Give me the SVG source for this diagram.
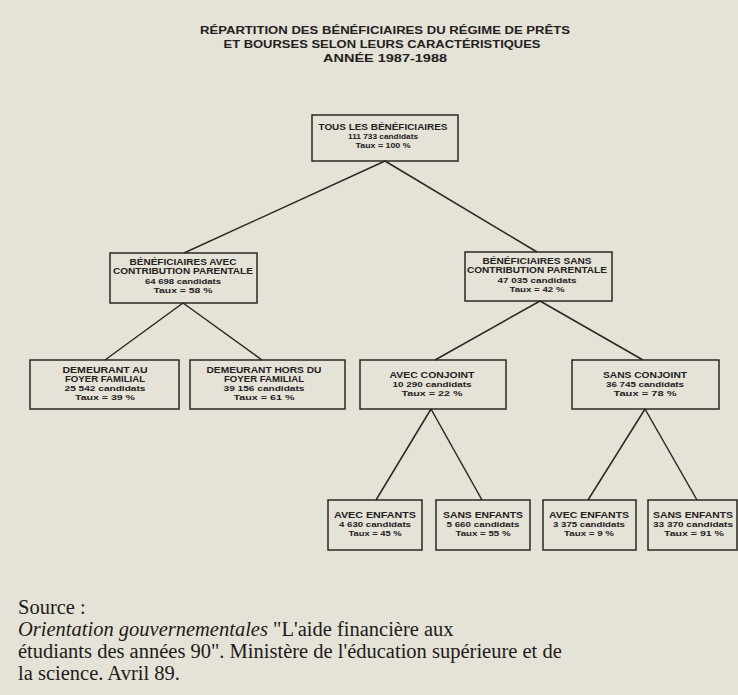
<svg xmlns="http://www.w3.org/2000/svg" width="738" height="695" viewBox="0 0 738 695">
<style>
.bg{fill:#e5e2d8}
.box{fill:none;stroke:#2b2824;stroke-width:1.5}
.t{font-family:"Liberation Sans",Arial,sans-serif;font-weight:bold;font-size:9px;fill:#24211d;text-anchor:middle}
.s{font-size:8px}
.title{font-family:"Liberation Sans",Arial,sans-serif;font-weight:bold;font-size:10.5px;fill:#24211d;text-anchor:middle}
.src{font-family:"Liberation Serif","Times New Roman",serif;font-size:20.5px;fill:#1e1b18}
.conn line{stroke:#2b2824;stroke-width:1.5}
</style>
<rect class="bg" x="0" y="0" width="738" height="695"/>
<g id="title">
<text class="title" x="385" y="34" textLength="370" lengthAdjust="spacingAndGlyphs">RÉPARTITION DES BÉNÉFICIAIRES DU RÉGIME DE PRÊTS</text>
<text class="title" x="382" y="48" textLength="317" lengthAdjust="spacingAndGlyphs">ET BOURSES SELON LEURS CARACTÉRISTIQUES</text>
<text class="title" x="385" y="62" textLength="124" lengthAdjust="spacingAndGlyphs">ANNÉE 1987-1988</text>
</g>
<g class="conn" id="connectors">
<line x1="385" y1="161" x2="184" y2="253"/>
<line x1="385" y1="161" x2="537" y2="252"/>
<line x1="183" y1="303" x2="105" y2="360"/>
<line x1="183" y1="303" x2="262" y2="360"/>
<line x1="540" y1="301" x2="435" y2="360"/>
<line x1="540" y1="301" x2="643" y2="360"/>
<line x1="431" y1="409" x2="376" y2="500"/>
<line x1="431" y1="409" x2="482" y2="500"/>
<line x1="645" y1="409" x2="588" y2="500"/>
<line x1="645" y1="409" x2="697" y2="500"/>
</g>
<g id="n-root">
<rect class="box" x="312" y="115" width="146" height="46"/>
<text class="t" x="383" y="130" textLength="129" lengthAdjust="spacingAndGlyphs">TOUS LES BÉNÉFICIAIRES</text>
<text class="t s" x="383" y="139" textLength="70" lengthAdjust="spacingAndGlyphs">111 733 candidats</text>
<text class="t s" x="383" y="148" textLength="55" lengthAdjust="spacingAndGlyphs">Taux = 100 %</text>
</g>
<g id="n-avec-contrib">
<rect class="box" x="110" y="253" width="147" height="50"/>
<text class="t" x="183" y="265" textLength="107" lengthAdjust="spacingAndGlyphs">BÉNÉFICIAIRES AVEC</text>
<text class="t" x="183" y="274" textLength="140" lengthAdjust="spacingAndGlyphs">CONTRIBUTION PARENTALE</text>
<text class="t s" x="183" y="284" textLength="76" lengthAdjust="spacingAndGlyphs">64 698 candidats</text>
<text class="t s" x="183" y="293" textLength="59" lengthAdjust="spacingAndGlyphs">Taux = 58 %</text>
</g>
<g id="n-sans-contrib">
<rect class="box" x="465" y="252" width="147" height="49"/>
<text class="t" x="537" y="264" textLength="109" lengthAdjust="spacingAndGlyphs">BÉNÉFICIAIRES SANS</text>
<text class="t" x="537" y="273" textLength="140" lengthAdjust="spacingAndGlyphs">CONTRIBUTION PARENTALE</text>
<text class="t s" x="537" y="283" textLength="79" lengthAdjust="spacingAndGlyphs">47 035 candidats</text>
<text class="t s" x="537" y="292" textLength="55" lengthAdjust="spacingAndGlyphs">Taux = 42 %</text>
</g>
<g id="n-demeurant-au">
<rect class="box" x="30" y="360" width="149" height="49"/>
<text class="t" x="105" y="373" textLength="85" lengthAdjust="spacingAndGlyphs">DEMEURANT AU</text>
<text class="t" x="105" y="382" textLength="80" lengthAdjust="spacingAndGlyphs">FOYER FAMILIAL</text>
<text class="t s" x="105" y="391" textLength="81" lengthAdjust="spacingAndGlyphs">25 542 candidats</text>
<text class="t s" x="105" y="400" textLength="60" lengthAdjust="spacingAndGlyphs">Taux = 39 %</text>
</g>
<g id="n-demeurant-hors">
<rect class="box" x="190" y="360" width="155" height="49"/>
<text class="t" x="264" y="373" textLength="115" lengthAdjust="spacingAndGlyphs">DEMEURANT HORS DU</text>
<text class="t" x="264" y="382" textLength="80" lengthAdjust="spacingAndGlyphs">FOYER FAMILIAL</text>
<text class="t s" x="264" y="391" textLength="81" lengthAdjust="spacingAndGlyphs">39 156 candidats</text>
<text class="t s" x="264" y="400" textLength="61" lengthAdjust="spacingAndGlyphs">Taux = 61 %</text>
</g>
<g id="n-avec-conjoint">
<rect class="box" x="360" y="360" width="146" height="49"/>
<text class="t" x="432" y="378" textLength="85" lengthAdjust="spacingAndGlyphs">AVEC CONJOINT</text>
<text class="t s" x="432" y="387" textLength="79" lengthAdjust="spacingAndGlyphs">10 290 candidats</text>
<text class="t s" x="432" y="396" textLength="61" lengthAdjust="spacingAndGlyphs">Taux = 22 %</text>
</g>
<g id="n-sans-conjoint">
<rect class="box" x="572" y="360" width="147" height="49"/>
<text class="t" x="645" y="378" textLength="84" lengthAdjust="spacingAndGlyphs">SANS CONJOINT</text>
<text class="t s" x="645" y="387" textLength="78" lengthAdjust="spacingAndGlyphs">36 745 candidats</text>
<text class="t s" x="645" y="396" textLength="63" lengthAdjust="spacingAndGlyphs">Taux = 78 %</text>
</g>
<g id="n-ac-avec-enfants">
<rect class="box" x="328" y="500" width="94" height="50"/>
<text class="t" x="375" y="518" textLength="82" lengthAdjust="spacingAndGlyphs">AVEC ENFANTS</text>
<text class="t s" x="375" y="527" textLength="72" lengthAdjust="spacingAndGlyphs">4 630 candidats</text>
<text class="t s" x="375" y="536" textLength="53" lengthAdjust="spacingAndGlyphs">Taux = 45 %</text>
</g>
<g id="n-ac-sans-enfants">
<rect class="box" x="436" y="500" width="94" height="50"/>
<text class="t" x="483" y="518" textLength="80" lengthAdjust="spacingAndGlyphs">SANS ENFANTS</text>
<text class="t s" x="483" y="527" textLength="73" lengthAdjust="spacingAndGlyphs">5 660 candidats</text>
<text class="t s" x="483" y="536" textLength="55" lengthAdjust="spacingAndGlyphs">Taux = 55 %</text>
</g>
<g id="n-sc-avec-enfants">
<rect class="box" x="543" y="500" width="93" height="50"/>
<text class="t" x="589" y="518" textLength="80" lengthAdjust="spacingAndGlyphs">AVEC ENFANTS</text>
<text class="t s" x="589" y="527" textLength="72" lengthAdjust="spacingAndGlyphs">3 375 candidats</text>
<text class="t s" x="589" y="536" textLength="50" lengthAdjust="spacingAndGlyphs">Taux = 9 %</text>
</g>
<g id="n-sc-sans-enfants">
<rect class="box" x="648" y="500" width="89" height="50"/>
<text class="t" x="693" y="518" textLength="80" lengthAdjust="spacingAndGlyphs">SANS ENFANTS</text>
<text class="t s" x="693" y="527" textLength="80" lengthAdjust="spacingAndGlyphs">33 370 candidats</text>
<text class="t s" x="694" y="536" textLength="60" lengthAdjust="spacingAndGlyphs">Taux = 91 %</text>
</g>
<g id="source">
<text class="src" x="18" y="614">Source :</text>
<text class="src" x="18" y="636"><tspan font-style="italic">Orientation gouvernementales</tspan> "L'aide financière aux</text>
<text class="src" x="18" y="658">étudiants des années 90". Ministère de l'éducation supérieure et de</text>
<text class="src" x="18" y="680">la science. Avril 89.</text>
</g>
</svg>
